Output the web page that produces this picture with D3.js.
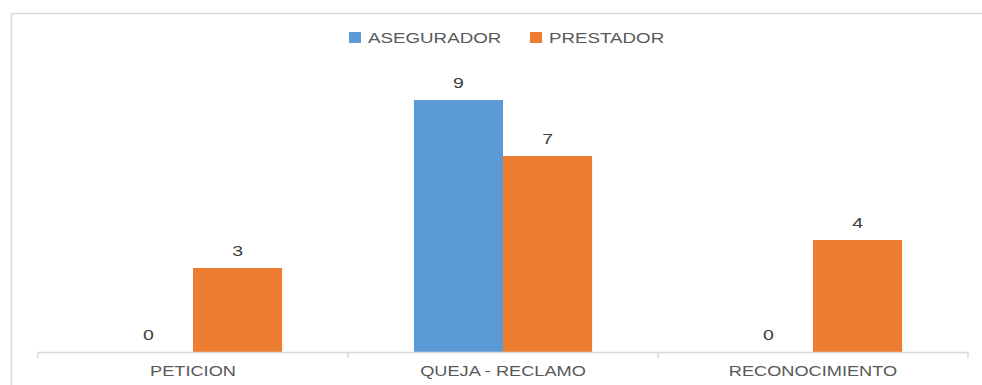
<!DOCTYPE html>
<html>
<head>
<meta charset="utf-8">
<script src="https://cdn.jsdelivr.net/npm/d3@7/dist/d3.min.js"></script>
<style>
  html, body { margin: 0; padding: 0; background: #ffffff; }
  svg { display: block; }
  text { font-family: "Liberation Sans", Arial, sans-serif; }
</style>
</head>
<body>
<svg id="chart" width="982" height="385"></svg>
<script>
// Chart data
const categories = ["PETICION", "QUEJA - RECLAMO", "RECONOCIMIENTO"];
const seriesNames = ["ASEGURADOR", "PRESTADOR"];
const asegurador = [0, 9, 0];
const prestador = [3, 7, 4];
const seriesColors = ["#5b9bd5", "#ed7d31"];
const yDomain = [0, 10];

const svg = d3.select("#chart");
const W = 982, H = 385;
const margin = { left: 38, right: 14, top: 72, bottom: 33 };
const stretch = 1.3;        // horizontal text stretch
const legendStretch = 1.25;

// Frame around the chart area
svg.append("path")
  .attr("d", `M11.5,${H} V13.5 H${W}`)
  .attr("fill", "none")
  .attr("stroke", "#d9d9d9")
  .attr("stroke-width", 1.5);

const x0 = d3.scaleBand()
  .domain(categories)
  .range([margin.left, W - margin.right])
  .paddingInner(0)
  .paddingOuter(0);

const x1 = d3.scaleBand()
  .domain(seriesNames)
  .range([0, x0.bandwidth()])
  .paddingInner(0)
  .paddingOuter(0.74);

const y = d3.scaleLinear()
  .domain(yDomain)
  .range([H - margin.bottom, margin.top]);

const rows = categories.map((c, i) => ({
  category: c,
  values: [
    { series: seriesNames[0], value: asegurador[i] },
    { series: seriesNames[1], value: prestador[i] }
  ]
}));

// Bars
const groups = svg.append("g")
  .selectAll("g")
  .data(rows)
  .join("g")
  .attr("transform", d => `translate(${x0(d.category)},0)`);

groups.selectAll("rect")
  .data(d => d.values)
  .join("rect")
  .attr("x", d => x1(d.series))
  .attr("width", x1.bandwidth())
  .attr("y", d => y(d.value))
  .attr("height", d => y(0) - y(d.value))
  .attr("fill", (d, i) => seriesColors[i]);

// Value labels
groups.selectAll("text")
  .data(d => d.values)
  .join("text")
  .attr("transform", d => `translate(${x1(d.series) + x1.bandwidth() / 2},${y(d.value) - 12}) scale(${stretch},1)`)
  .attr("text-anchor", "middle")
  .attr("font-size", 15)
  .attr("fill", "#404040")
  .text(d => d.value);

// Category axis
const xAxis = d3.axisBottom(x0).tickSize(0).tickPadding(0);
const axisG = svg.append("g")
  .attr("transform", `translate(0,${y(0)})`)
  .call(xAxis);
axisG.select(".domain").remove();
axisG.selectAll(".tick text").remove();

axisG.append("line")
  .attr("x1", margin.left).attr("x2", W - margin.right)
  .attr("y1", 0.5).attr("y2", 0.5)
  .attr("stroke", "#d9d9d9").attr("stroke-width", 1.5);

const boundaries = categories.map(c => x0(c)).concat([x0(categories[categories.length - 1]) + x0.bandwidth()]);
axisG.selectAll("line.bound")
  .data(boundaries)
  .join("line")
  .attr("class", "bound")
  .attr("x1", d => d).attr("x2", d => d)
  .attr("y1", 0).attr("y2", 6)
  .attr("stroke", "#d9d9d9").attr("stroke-width", 1.5);

axisG.selectAll("text.cat")
  .data(categories)
  .join("text")
  .attr("class", "cat")
  .attr("transform", d => `translate(${x0(d) + x0.bandwidth() / 2},24) scale(${stretch},1)`)
  .attr("text-anchor", "middle")
  .attr("font-size", 14)
  .attr("fill", "#595959")
  .text(d => d);

// Legend
const legendItems = [
  { name: seriesNames[0], color: seriesColors[0], x: 349 },
  { name: seriesNames[1], color: seriesColors[1], x: 530 }
];
const legend = svg.append("g");
legend.selectAll("rect")
  .data(legendItems)
  .join("rect")
  .attr("x", d => d.x).attr("y", 32)
  .attr("width", 12).attr("height", 11)
  .attr("fill", d => d.color);
legend.selectAll("text")
  .data(legendItems)
  .join("text")
  .attr("transform", d => `translate(${d.x + 19},43) scale(${legendStretch},1)`)
  .attr("font-size", 15)
  .attr("fill", "#595959")
  .text(d => d.name);
</script>
</body>
</html>
